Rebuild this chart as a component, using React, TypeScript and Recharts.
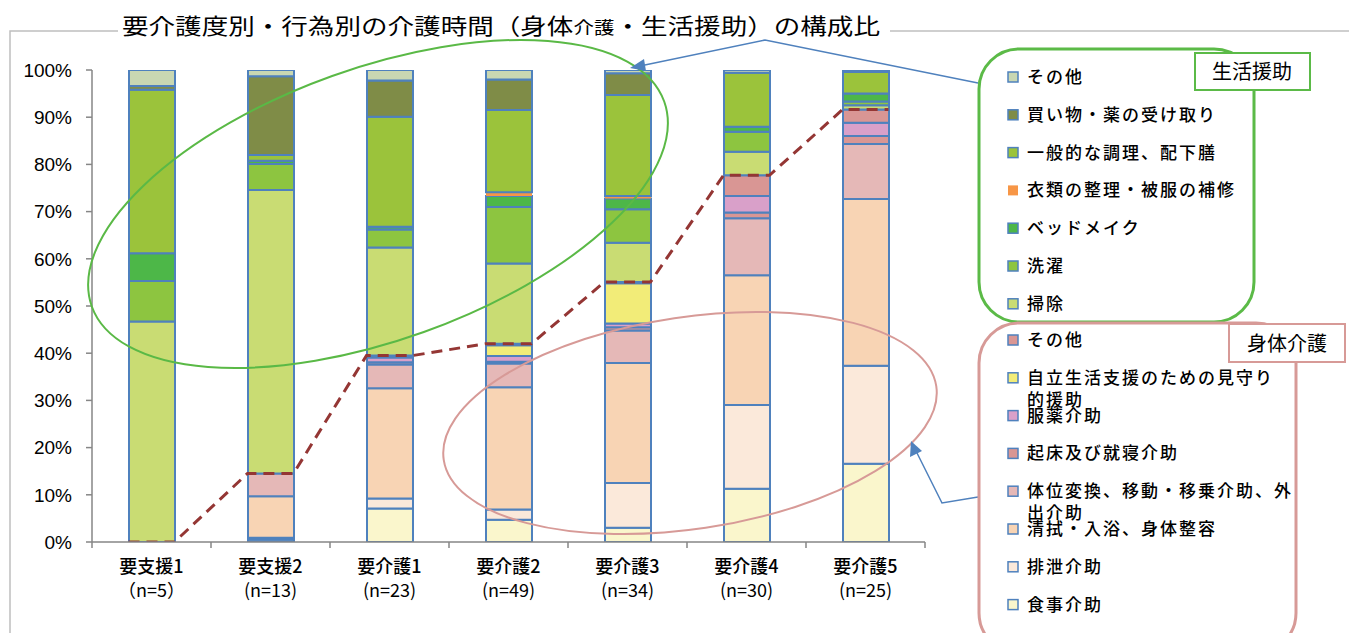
import React from 'react';
import { ComposedChart, Bar, Line, XAxis, YAxis } from 'recharts';

const CATEGORIES = ['要支援1', '要支援2', '要介護1', '要介護2', '要介護3', '要介護4', '要介護5'];
const N_LABELS = ['（n=5）', '(n=13)', '(n=23)', '(n=49)', '(n=34)', '(n=30)', '(n=25)'];
const Y_TICKS = [0, 10, 20, 30, 40, 50, 60, 70, 80, 90, 100];

// 身体介護 (%)
const MEAL = [0, 0.5, 7.1, 4.7, 3.0, 11.3, 16.6];
const EXCRETION = [0, 0.4, 2.1, 2.2, 9.5, 17.7, 20.8];
const BATH = [0, 8.8, 23.4, 25.9, 25.4, 27.5, 35.4];
const TRANSFER = [0, 4.8, 5.0, 5.0, 6.9, 12.1, 11.7];
const WAKE = [0, 0, 0.5, 0.4, 0.7, 1.2, 1.7];
const MEDICINE = [0, 0, 1.0, 1.2, 0.8, 3.5, 2.8];
const WATCH = [0, 0, 0, 2.3, 8.5, 0, 0];
const BODY_OTHER = [0, 0, 0.4, 0.3, 0.3, 4.4, 2.8];

// 生活援助 (%)
const CLEANING = [46.7, 60.0, 22.9, 17.0, 8.3, 5.0, 0.9];
const LAUNDRY = [8.6, 5.5, 3.8, 12.0, 7.1, 4.2, 0.8];
const BEDMAKE = [5.9, 0.7, 0.6, 2.3, 2.3, 1.1, 1.7];
const CLOTHES = [0, 0, 0, 0.8, 0.5, 0, 0];
const COOKING = [34.6, 1.2, 23.3, 17.4, 21.4, 11.4, 4.6];
const SHOPPING = [0.8, 16.7, 7.7, 6.5, 4.6, 0, 0];
const LIFE_OTHER = [3.4, 1.3, 2.2, 2.0, 0.7, 0.6, 0.4];

const BODY = [
  { key: 'meal', name: '食事介助', values: MEAL },
  { key: 'excretion', name: '排泄介助', values: EXCRETION },
  { key: 'bath', name: '清拭・入浴、身体整容', values: BATH },
  { key: 'transfer', name: '体位変換、移動・移乗介助、外出介助', values: TRANSFER },
  { key: 'wake', name: '起床及び就寝介助', values: WAKE },
  { key: 'medicine', name: '服薬介助', values: MEDICINE },
  { key: 'watch', name: '自立生活支援のための見守り的援助', values: WATCH },
  { key: 'bodyOther', name: 'その他', values: BODY_OTHER },
];
const LIFE = [
  { key: 'cleaning', name: '掃除', values: CLEANING },
  { key: 'laundry', name: '洗濯', values: LAUNDRY },
  { key: 'bedmake', name: 'ベッドメイク', values: BEDMAKE },
  { key: 'clothes', name: '衣類の整理・被服の補修', values: CLOTHES },
  { key: 'cooking', name: '一般的な調理、配下膳', values: COOKING },
  { key: 'shopping', name: '買い物・薬の受け取り', values: SHOPPING },
  { key: 'lifeOther', name: 'その他', values: LIFE_OTHER },
];

// legend text as drawn (manual wrapping like the original)
const LEGEND_LINES: Record<string, string[]> = {
  watch: ['自立生活支援のための見守り', '的援助'],
  transfer: ['体位変換、移動・移乗介助、外', '出介助'],
};

const COLORS: Record<string, string> = {
  meal: '#FAF6CC',
  excretion: '#FBE9DA',
  bath: '#F8D4B4',
  transfer: '#E5B8B7',
  wake: '#D99694',
  medicine: '#D9A0C9',
  watch: '#F2EC78',
  bodyOther: '#D99694',
  cleaning: '#C9DC73',
  laundry: '#8DC540',
  bedmake: '#4DB748',
  clothes: '#F79646',
  cooking: '#9BC33B',
  shopping: '#7F8C47',
  lifeOther: '#C9D7B2',
};

const W = 1349;
const H = 633;
const PLOT_LEFT = 92;
const PLOT_RIGHT = 925;
const BAND = (PLOT_RIGHT - PLOT_LEFT) / CATEGORIES.length;
const BAR_SIZE = 46;
const AXIS = '#868686';
const BORDER = '#4F81BD';
const JP = '"Noto Sans CJK JP", "Noto Sans", sans-serif';

const ALL = [...BODY, ...LIFE];

const data = CATEGORIES.map((name, i) => {
  const total = ALL.reduce((s, d) => s + d.values[i], 0);
  const row: Record<string, any> = { name };
  ALL.forEach((d) => {
    row[d.key] = (d.values[i] / total) * 100;
  });
  row.bodyTotal = BODY.reduce((s, d) => s + row[d.key], 0);
  return row;
});

// step line across each bar's top of 身体介護
const half = BAR_SIZE / 2 / BAND;
const lineData = data.flatMap((row, i) => [
  { x: i + 0.5 - half, y: row.bodyTotal },
  { x: i + 0.5 + half, y: row.bodyTotal },
]);

const CategoryTick = (props: any) => {
  const { x, y, payload, index } = props;
  const h = BAND / 2;
  return (
    <g>
      <line x1={x - h} x2={x - h} y1={y} y2={y + 6} stroke={AXIS} strokeWidth={1.5} />
      {index === CATEGORIES.length - 1 && (
        <line x1={x + h} x2={x + h} y1={y} y2={y + 6} stroke={AXIS} strokeWidth={1.5} />
      )}
      <text x={x} y={y + 31} textAnchor="middle" fontSize={18} fontWeight={500} fontFamily={JP} fill="#000">
        {payload.value}
      </text>
      <text x={x} y={y + 55} textAnchor="middle" fontSize={18} fontFamily={JP} fill="#000">
        {N_LABELS[index]}
      </text>
    </g>
  );
};

function LegendItem({ k, name, y }: { k: string; name: string; y: number }) {
  const lines = LEGEND_LINES[k] || [name];
  return (
    <g>
      <rect
        x={1008}
        y={y - 5}
        width={10}
        height={10}
        fill={COLORS[k]}
        stroke={k === 'clothes' ? 'none' : BORDER}
        strokeWidth={1.5}
      />
      {lines.map((t, j) => (
        <text
          key={j}
          x={1027}
          y={y + 6 + j * 22}
          fontSize={17}
          fontWeight={500}
          letterSpacing={2}
          fontFamily={JP}
          fill="#000"
        >
          {t}
        </text>
      ))}
    </g>
  );
}

function Overlay() {
  const lifeOrder = [...LIFE].reverse();
  const bodyOrder = [...BODY].reverse();
  return (
    <svg width={W} height={H} style={{ position: 'absolute', left: 0, top: 0, pointerEvents: 'none' }}>
      {/* frame */}
      <polyline points={`118,31 10,31 10,${H}`} fill="none" stroke="#BFBFBF" strokeWidth={1.5} />
      <line x1={890} x2={W} y1={31} y2={31} stroke="#BFBFBF" strokeWidth={1.5} />
      {/* title */}
      <text x={122} y={34} fontSize={22} fontFamily={JP} fill="#000" textLength={758} lengthAdjust="spacingAndGlyphs">
        要介護度別・行為別の介護時間（身体<tspan fontSize={17}>介護</tspan>・生活援助）の構成比
      </text>
      {/* ellipses */}
      <ellipse cx={378} cy={204} rx={304} ry={136} transform="rotate(-19.7 378 204)" fill="none" stroke="#5AB946" strokeWidth={2} />
      <ellipse cx={690} cy={423} rx={249} ry={106} transform="rotate(-8.5 690 423)" fill="none" stroke="#D79A97" strokeWidth={2} />
      {/* arrows */}
      <polyline points="978,83 765,40 640,66" fill="none" stroke={BORDER} strokeWidth={1.5} />
      <polygon points="630,68 644,59 646,71" fill={BORDER} />
      <polyline points="978,497 942,503 916,451" fill="none" stroke={BORDER} strokeWidth={1.5} />
      <polygon points="911,441 910,457 922,451" fill={BORDER} />
      {/* 生活援助 legend */}
      <rect x={979} y={49} width={275} height={273} rx={40} fill="#fff" stroke="#5BBA47" strokeWidth={3} />
      <rect x={1195} y={53} width={115} height={37} fill="#fff" stroke="#5BBA47" strokeWidth={2} />
      <text x={1252} y={79} textAnchor="middle" fontSize={20} fontFamily={JP} fill="#000">生活援助</text>
      {lifeOrder.map((d, i) => (
        <LegendItem key={d.key} k={d.key} name={d.name} y={77 + i * 37.8} />
      ))}
      {/* 身体介護 legend */}
      <rect x={979} y={323} width={317} height={330} rx={40} fill="#fff" stroke="#D79A97" strokeWidth={3} />
      <rect x={1229} y={324} width={116} height={38} fill="#fff" stroke="#D79A97" strokeWidth={2} />
      <text x={1287} y={351} textAnchor="middle" fontSize={20} fontFamily={JP} fill="#000">身体介護</text>
      {bodyOrder.map((d, i) => (
        <LegendItem key={d.key} k={d.key} name={d.name} y={340 + i * 37.8} />
      ))}
    </svg>
  );
}

export default function App() {
  return (
    <div style={{ position: 'absolute', left: 0, top: 0, width: W, height: H, background: '#fff' }}>
      <ComposedChart
        width={W}
        height={H}
        data={data}
        margin={{ top: 70, right: W - PLOT_RIGHT, bottom: 31, left: 20 }}
      >
        <XAxis
          xAxisId="cat"
          dataKey="name"
          height={60}
          stroke={AXIS}
          strokeWidth={1.5}
          tickLine={false}
          tickSize={0}
          tickMargin={0}
          interval={0}
          tick={<CategoryTick />}
        />
        <XAxis xAxisId="num" type="number" dataKey="x" domain={[0, CATEGORIES.length]} hide />
        <YAxis
          domain={[0, 100]}
          ticks={Y_TICKS}
          width={72}
          allowDataOverflow
          stroke={AXIS}
          strokeWidth={1.5}
          tickSize={6}
          tickMargin={14}
          tickFormatter={(v: number) => `${v}%`}
          tick={{ fill: '#000', fontSize: 19, fontFamily: '"Liberation Sans", Arial, sans-serif' }}
        />
        {ALL.map((d) => (
          <Bar
            key={d.key}
            xAxisId="cat"
            dataKey={d.key}
            name={d.name}
            stackId="a"
            barSize={BAR_SIZE}
            fill={COLORS[d.key]}
            stroke={d.key === 'clothes' ? 'none' : BORDER}
            strokeWidth={2}
            isAnimationActive={false}
          />
        ))}
        <Line
          xAxisId="num"
          data={lineData}
          dataKey="y"
          type="linear"
          stroke="#943634"
          strokeWidth={3}
          strokeDasharray="11 7"
          dot={false}
          activeDot={false}
          isAnimationActive={false}
        />
      </ComposedChart>
      <Overlay />
    </div>
  );
}
